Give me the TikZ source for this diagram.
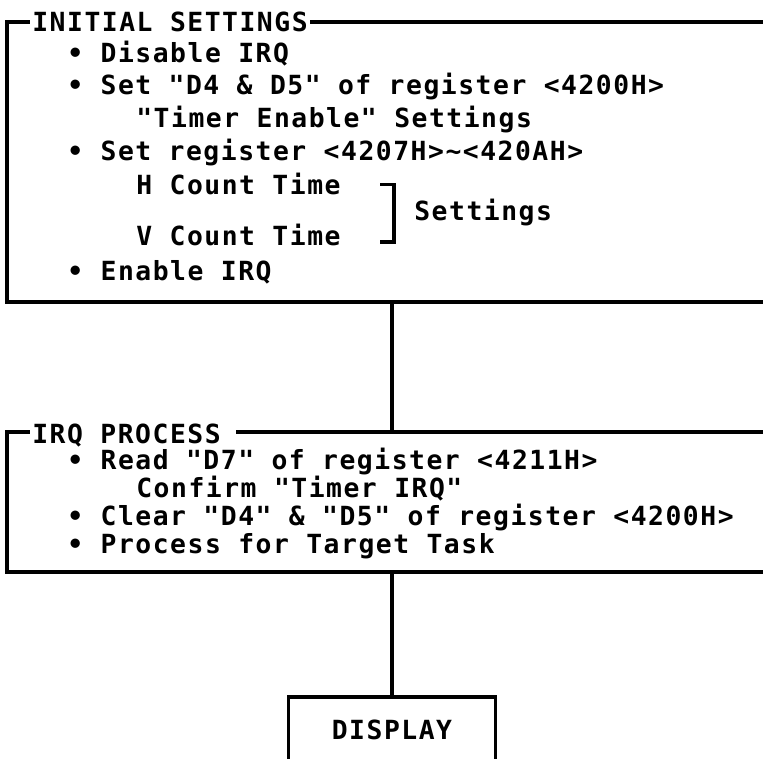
\documentclass[tikz,border=0pt]{standalone}
\usepackage{fontspec}
\newfontfamily\printfont[LetterSpace=5.8]{DejaVu Sans Mono Bold}
\usetikzlibrary{positioning,calc}
\tikzset{
  frameBox/.style={draw,line width=2pt,inner sep=0pt,minimum width=#1},
  printText/.style={font={\printfont\fontsize{15pt}{17pt}\selectfont}},
  rowText/.style={printText,anchor=base west,inner sep=0pt},
  headText/.style={rowText,fill=white,inner xsep=0.5mm,inner ysep=1mm},
  linkLine/.style={line width=2pt},
}
\begin{document}
\begin{tikzpicture}[x=0.2mm,y=-0.2mm]
  \useasboundingbox (0,0) rectangle (763,759);
  \clip (0,0) rectangle (763,759);
  % frames
  \node[frameBox=15.4cm,minimum height=5.6cm](init) at (392,162){};
  \node[frameBox=15.4cm,minimum height=2.8cm](irq) at (392,502){};
  \node[frameBox=4.14cm,minimum height=1.32cm,printText](disp) at (392,730){DISPLAY};
  \draw[linkLine](init.south)--(irq.north);
  \draw[linkLine](irq.south)--(disp.north);
  % initial settings
  \node[headText](initT) at (29.5,32){INITIAL SETTINGS};
  \node[rowText](i1) at (67,63){• Disable IRQ};
  \node[rowText](i2) at (67,95){• Set "D4 \& D5" of register <4200H>};
  \node[rowText](i3) at (136,128){"Timer Enable" Settings};
  \node[rowText](i4) at (67,161){• Set register <4207H>\textasciitilde<420AH>};
  \node[rowText](hcnt) at (136,195){H Count Time};
  \node[rowText](vcnt) at (136,246){V Count Time};
  \node[rowText](sets) at (414,221){Settings};
  \node[rowText](i5) at (67,280){• Enable IRQ};
  \draw[linkLine]($(hcnt.center -| sets.west)+(-34,0)$)-|
      ($(vcnt.mid -| sets.west)+(-20,0)$)--++(-14,0);
  % irq process
  \node[headText](irqT) at (29.5,443){IRQ PROCESS\kern0.25cm};
  \node[rowText](q1) at (67,469){• Read "D7" of register <4211H>};
  \node[rowText](q2) at (136,497){Confirm "Timer IRQ"};
  \node[rowText](q3) at (67,525){• Clear "D4" \& "D5" of register <4200H>};
  \node[rowText](q4) at (67,553){• Process for Target Task};
\end{tikzpicture}
\end{document}
